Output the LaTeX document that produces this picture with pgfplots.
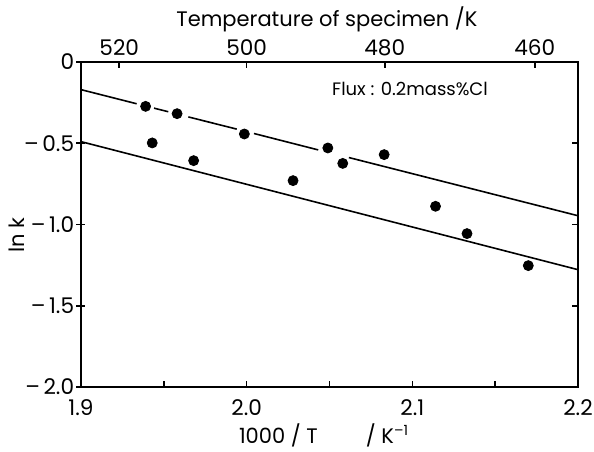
\documentclass[border=0pt]{standalone}
\usepackage{pgfplots}
\pgfplotsset{compat=1.18}
\usepackage{fontspec}
\setmainfont{Poppins}
\begin{document}
\fontsize{10.5}{12}\selectfont
\begin{tikzpicture}
\useasboundingbox (-40.5pt,-32pt) rectangle (256.5pt,193.5pt);
\pgfplotsset{base/.style={width=248.5pt,height=162.5pt,scale only axis,
  xmin=1.9,xmax=2.2,ymin=-2,ymax=0,
  axis line style={line width=1pt},
  every tick/.style={line width=0.8pt,black},
  major tick length=3pt, minor tick length=3pt,
  /pgf/number format/assume math mode=true,
  tick label style={font=\fontsize{10.8}{12}\selectfont, inner sep=0pt}}}
% main axis with data
\begin{axis}[base,
  xtick={1.9,2.0,2.1,2.2}, xticklabels={1.9,2.0,2.1,2.2},
  minor xtick={1.95,2.05,2.15},
  xtick pos=bottom, tick align=inside,
  xticklabel style={anchor=north,yshift=-6pt},
  ytick={-1.5,-1,-0.5}, yticklabels={}, ytick pos=right,
  unbounded coords=jump]
\addplot[line width=0.8pt] coordinates {
 (1.9,-0.170) (1.9336,-0.257) (1.938,nan)
 (1.9441,-0.284) (1.9527,-0.306) (1.958,nan)
 (1.9648,-0.338) (1.9940,-0.413) (2.0,nan)
 (2.0044,-0.440) (2.0432,-0.541) (2.05,nan)
 (2.0617,-0.588) (2.2,-0.946)};
\addplot[line width=0.8pt] coordinates {(1.9,-0.490) (2.2,-1.278)};
\addplot[only marks, mark=*, mark size=2.5pt, mark options={fill=black,draw=none}] coordinates {
 (1.939,-0.273) (1.943,-0.498) (1.958,-0.318) (1.968,-0.607)
 (1.9986,-0.443) (2.028,-0.730) (2.049,-0.529) (2.058,-0.624)
 (2.083,-0.570) (2.114,-0.888) (2.133,-1.056) (2.170,-1.253)};
\end{axis}
% left y axis
\begin{axis}[base, axis x line=none, axis y line*=left,
  ytick={-2,-1.5,-1,-0.5,0},
  yticklabels={--\,2.0,--\,1.5,--\,1.0,--\,0.5,0},
  tick align=center, major tick length=4.5pt,
  yticklabel style={anchor=east,xshift=-1pt}]
\end{axis}
% top temperature axis
\begin{axis}[base, axis y line=none, axis x line*=top,
  xtick={1.923077,2,2.083333,2.173913}, xticklabels={520,500,480,460},
  tick align=inside,
  xticklabel style={anchor=south,yshift=3pt}]
\end{axis}
\node[anchor=base] at (123pt,180pt) {Temperature of specimen /K};
\node[anchor=base,font=\fontsize{9}{10}\selectfont] at (164.5pt,146pt) {Flux : 0.2mass\%Cl};
\node[anchor=base] at (121.25pt,-28pt) {1000 / T\hspace{24pt}/ K\raisebox{4pt}{\fontsize{7}{8}\selectfont --1}};
\node[rotate=90] at (-32.25pt,76pt) {ln k};
\end{tikzpicture}
\end{document}
